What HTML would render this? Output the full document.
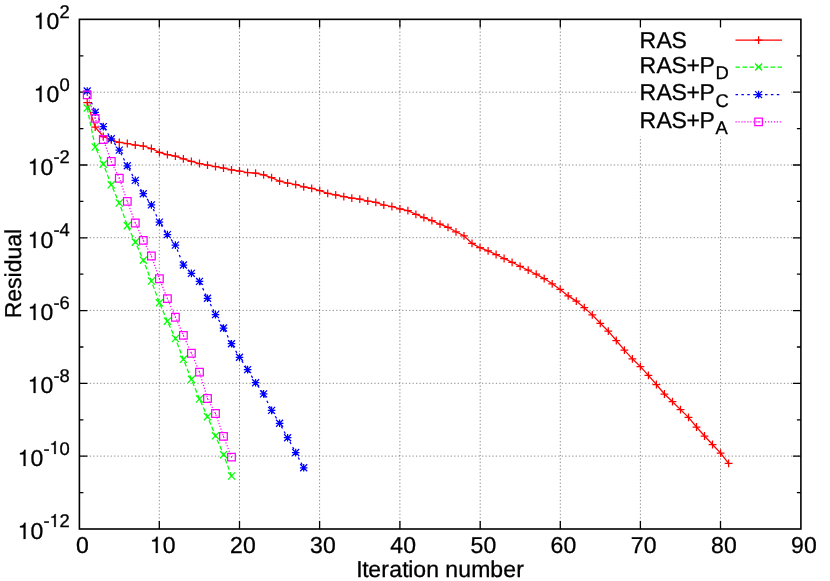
<!DOCTYPE html>
<html><head><meta charset="utf-8"><title>Residual vs iteration</title>
<style>html,body{margin:0;padding:0;background:#fff}svg{display:block;will-change:transform}</style>
</head><body>
<svg width="830" height="581" viewBox="0 0 830 581">
<rect width="830" height="581" fill="#fff"/>
<g stroke="#000" stroke-opacity="0.45" stroke-width="1" stroke-dasharray="1.3 2.17" fill="none">
<path d="M159.3 529.0V19.4"/>
<path d="M239.5 529.0V19.4"/>
<path d="M319.6 529.0V19.4"/>
<path d="M399.9 529.0V19.4"/>
<path d="M480.2 529.0V19.4"/>
<path d="M560.3 529.0V19.4"/>
<path d="M640.4 529.0V19.4"/>
<path d="M720.5 529.0V19.4"/>
<path d="M79.4 92.2H800.9"/>
<path d="M79.4 165.0H800.9"/>
<path d="M79.4 237.7H800.9"/>
<path d="M79.4 310.4H800.9"/>
<path d="M79.4 383.3H800.9"/>
<path d="M79.4 456.1H800.9"/>
</g>
<rect x="638" y="20" width="153" height="116.6" fill="#fff"/>
<g stroke="#000" stroke-width="1.3" fill="none">
<path d="M159.3 529.0v-8M159.3 19.4v8M239.5 529.0v-8M239.5 19.4v8M319.6 529.0v-8M319.6 19.4v8M399.9 529.0v-8M399.9 19.4v8M480.2 529.0v-8M480.2 19.4v8M560.3 529.0v-8M560.3 19.4v8M640.4 529.0v-8M640.4 19.4v8M720.5 529.0v-8M720.5 19.4v8M79.4 55.8h4M800.9 55.8h-4M79.4 92.2h8M800.9 92.2h-8M79.4 128.6h4M800.9 128.6h-4M79.4 165.0h8M800.9 165.0h-8M79.4 201.4h4M800.9 201.4h-4M79.4 237.8h8M800.9 237.8h-8M79.4 274.2h4M800.9 274.2h-4M79.4 310.6h8M800.9 310.6h-8M79.4 347.0h4M800.9 347.0h-4M79.4 383.4h8M800.9 383.4h-8M79.4 419.8h4M800.9 419.8h-4M79.4 456.2h8M800.9 456.2h-8M79.4 492.6h4M800.9 492.6h-4"/>
<rect x="79.40" y="19.35" width="721.50" height="509.65" stroke-width="1.6"/>
</g>
<g stroke="#ff0000" stroke-width="1.25" fill="none">
<polyline points="87.2,102.6 95.2,127.2 103.3,136.5 111.3,140.0 119.3,142.4 127.3,143.5 135.3,145.0 143.3,146.0 151.4,148.5 159.4,152.3 167.4,154.7 175.4,156.1 183.4,158.8 191.4,161.3 199.5,163.5 207.5,165.1 215.5,166.5 223.5,168.1 231.5,169.8 239.5,171.0 247.6,172.5 255.6,173.1 263.6,174.9 271.6,177.7 279.6,181.2 287.6,183.0 295.7,184.5 303.7,186.9 311.7,188.4 319.7,190.5 327.7,193.3 335.7,194.8 343.8,196.6 351.8,198.1 359.8,199.2 367.8,201.0 375.8,202.3 383.8,205.0 391.9,206.5 399.9,208.9 407.9,210.7 415.9,214.3 423.9,217.7 431.9,220.6 440.0,224.2 448.0,227.3 456.0,231.8 464.0,235.8 472.0,243.4 480.0,247.7 488.1,250.9 496.1,254.5 504.1,258.5 512.1,262.3 520.1,266.3 528.2,270.2 536.2,274.2 544.2,278.6 552.2,283.8 560.2,289.4 568.2,295.9 576.3,301.1 584.3,307.7 592.3,314.9 600.3,323.3 608.3,331.2 616.3,340.5 624.4,350.1 632.4,358.8 640.4,366.6 648.4,375.4 656.4,384.5 664.4,394.0 672.5,401.7 680.5,409.6 688.5,417.4 696.5,427.0 704.5,436.0 712.5,444.5 720.6,453.1 728.6,463.4"/>
<path d="M83.3 102.6H91.1M87.2 98.7V106.5M91.3 127.2H99.1M95.2 123.3V131.1M99.4 136.5H107.2M103.3 132.6V140.4M107.4 140.0H115.2M111.3 136.1V143.9M115.4 142.4H123.2M119.3 138.5V146.3M123.4 143.5H131.2M127.3 139.6V147.4M131.4 145.0H139.2M135.3 141.1V148.9M139.4 146.0H147.2M143.3 142.1V149.9M147.5 148.5H155.3M151.4 144.6V152.4M155.5 152.3H163.3M159.4 148.4V156.2M163.5 154.7H171.3M167.4 150.8V158.6M171.5 156.1H179.3M175.4 152.2V160.0M179.5 158.8H187.3M183.4 154.9V162.7M187.5 161.3H195.3M191.4 157.4V165.2M195.6 163.5H203.4M199.5 159.6V167.4M203.6 165.1H211.4M207.5 161.2V169.0M211.6 166.5H219.4M215.5 162.6V170.4M219.6 168.1H227.4M223.5 164.2V172.0M227.6 169.8H235.4M231.5 165.9V173.7M235.6 171.0H243.4M239.5 167.1V174.9M243.7 172.5H251.5M247.6 168.6V176.4M251.7 173.1H259.5M255.6 169.2V177.0M259.7 174.9H267.5M263.6 171.0V178.8M267.7 177.7H275.5M271.6 173.8V181.6M275.7 181.2H283.5M279.6 177.3V185.1M283.7 183.0H291.5M287.6 179.1V186.9M291.8 184.5H299.6M295.7 180.6V188.4M299.8 186.9H307.6M303.7 183.0V190.8M307.8 188.4H315.6M311.7 184.5V192.3M315.8 190.5H323.6M319.7 186.6V194.4M323.8 193.3H331.6M327.7 189.4V197.2M331.8 194.8H339.6M335.7 190.9V198.7M339.9 196.6H347.7M343.8 192.7V200.5M347.9 198.1H355.7M351.8 194.2V202.0M355.9 199.2H363.7M359.8 195.3V203.1M363.9 201.0H371.7M367.8 197.1V204.9M371.9 202.3H379.7M375.8 198.4V206.2M379.9 205.0H387.7M383.8 201.1V208.9M388.0 206.5H395.8M391.9 202.6V210.4M396.0 208.9H403.8M399.9 205.0V212.8M404.0 210.7H411.8M407.9 206.8V214.6M412.0 214.3H419.8M415.9 210.4V218.2M420.0 217.7H427.8M423.9 213.8V221.6M428.0 220.6H435.8M431.9 216.7V224.5M436.1 224.2H443.9M440.0 220.3V228.1M444.1 227.3H451.9M448.0 223.4V231.2M452.1 231.8H459.9M456.0 227.9V235.7M460.1 235.8H467.9M464.0 231.9V239.7M468.1 243.4H475.9M472.0 239.5V247.3M476.1 247.7H483.9M480.0 243.8V251.6M484.2 250.9H492.0M488.1 247.0V254.8M492.2 254.5H500.0M496.1 250.6V258.4M500.2 258.5H508.0M504.1 254.6V262.4M508.2 262.3H516.0M512.1 258.4V266.2M516.2 266.3H524.0M520.1 262.4V270.2M524.3 270.2H532.1M528.2 266.3V274.1M532.3 274.2H540.1M536.2 270.3V278.1M540.3 278.6H548.1M544.2 274.7V282.5M548.3 283.8H556.1M552.2 279.9V287.7M556.3 289.4H564.1M560.2 285.5V293.3M564.3 295.9H572.1M568.2 292.0V299.8M572.4 301.1H580.2M576.3 297.2V305.0M580.4 307.7H588.2M584.3 303.8V311.6M588.4 314.9H596.2M592.3 311.0V318.8M596.4 323.3H604.2M600.3 319.4V327.2M604.4 331.2H612.2M608.3 327.3V335.1M612.4 340.5H620.2M616.3 336.6V344.4M620.5 350.1H628.3M624.4 346.2V354.0M628.5 358.8H636.3M632.4 354.9V362.7M636.5 366.6H644.3M640.4 362.7V370.5M644.5 375.4H652.3M648.4 371.5V379.3M652.5 384.5H660.3M656.4 380.6V388.4M660.5 394.0H668.3M664.4 390.1V397.9M668.6 401.7H676.4M672.5 397.8V405.6M676.6 409.6H684.4M680.5 405.7V413.5M684.6 417.4H692.4M688.5 413.5V421.3M692.6 427.0H700.4M696.5 423.1V430.9M700.6 436.0H708.4M704.5 432.1V439.9M708.6 444.5H716.4M712.5 440.6V448.4M716.7 453.1H724.5M720.6 449.2V457.0M724.7 463.4H732.5M728.6 459.5V467.3"/>
</g>
<g stroke="#00ff00" stroke-width="1.25" fill="none">
<polyline points="87.2,108.0 95.2,147.0 103.3,164.1 111.3,184.8 119.3,203.0 127.3,225.6 135.3,242.1 143.3,260.2 151.4,281.0 159.4,302.8 167.4,321.2 175.4,338.5 183.4,359.3 191.4,379.4 199.5,399.0 207.5,416.6 215.5,435.8 223.5,454.6 231.5,476.0" stroke-dasharray="4.6 2.4"/>
<path d="M83.7 104.5L90.8 111.5M83.7 111.5L90.8 104.5M91.7 143.4L98.8 150.6M91.7 150.6L98.8 143.4M99.7 160.5L106.8 167.7M99.7 167.7L106.8 160.5M107.7 181.2L114.8 188.4M107.7 188.4L114.8 181.2M115.7 199.4L122.8 206.6M115.7 206.6L122.8 199.4M123.8 222.0L130.9 229.2M123.8 229.2L130.9 222.0M131.8 238.5L138.9 245.7M131.8 245.7L138.9 238.5M139.8 256.6L146.9 263.8M139.8 263.8L146.9 256.6M147.8 277.4L154.9 284.6M147.8 284.6L154.9 277.4M155.8 299.2L162.9 306.4M155.8 306.4L162.9 299.2M163.8 317.6L170.9 324.8M163.8 324.8L170.9 317.6M171.9 334.9L179.0 342.1M171.9 342.1L179.0 334.9M179.9 355.8L187.0 362.9M179.9 362.9L187.0 355.8M187.9 375.8L195.0 382.9M187.9 382.9L195.0 375.8M195.9 395.4L203.0 402.6M195.9 402.6L203.0 395.4M203.9 413.1L211.0 420.2M203.9 420.2L211.0 413.1M211.9 432.2L219.0 439.4M211.9 439.4L219.0 432.2M220.0 451.1L227.1 458.2M220.0 458.2L227.1 451.1M228.0 472.4L235.1 479.6M228.0 479.6L235.1 472.4"/>
</g>
<g stroke="#0000ff" stroke-width="1.25" fill="none">
<polyline points="87.2,91.0 95.2,112.3 103.3,126.6 111.3,138.8 119.3,150.1 127.3,165.8 135.3,180.4 143.3,193.7 151.4,204.9 159.4,222.1 167.4,234.6 175.4,245.1 183.4,265.0 191.4,273.4 199.5,281.4 207.5,298.3 215.5,314.6 223.5,328.0 231.5,343.7 239.5,357.3 247.6,369.6 255.6,382.7 263.6,393.9 271.6,410.4 279.6,423.3 287.6,437.7 295.7,452.5 303.7,467.8" stroke-dasharray="2.5 3.4"/>
<path d="M83.4 91.0H91.0M87.2 87.2V94.8M83.7 87.5L90.7 94.5M83.7 94.5L90.7 87.5M91.4 112.3H99.0M95.2 108.5V116.1M91.7 108.8L98.7 115.8M91.7 115.8L98.7 108.8M99.5 126.6H107.1M103.3 122.8V130.4M99.8 123.1L106.8 130.1M99.8 130.1L106.8 123.1M107.5 138.8H115.1M111.3 135.0V142.6M107.8 135.3L114.8 142.3M107.8 142.3L114.8 135.3M115.5 150.1H123.1M119.3 146.3V153.9M115.8 146.6L122.8 153.6M115.8 153.6L122.8 146.6M123.5 165.8H131.1M127.3 162.0V169.6M123.8 162.3L130.8 169.3M123.8 169.3L130.8 162.3M131.5 180.4H139.1M135.3 176.6V184.2M131.8 176.9L138.8 183.9M131.8 183.9L138.8 176.9M139.5 193.7H147.1M143.3 189.9V197.5M139.8 190.2L146.8 197.2M139.8 197.2L146.8 190.2M147.6 204.9H155.2M151.4 201.1V208.7M147.9 201.4L154.9 208.4M147.9 208.4L154.9 201.4M155.6 222.1H163.2M159.4 218.3V225.9M155.9 218.6L162.9 225.6M155.9 225.6L162.9 218.6M163.6 234.6H171.2M167.4 230.8V238.4M163.9 231.1L170.9 238.1M163.9 238.1L170.9 231.1M171.6 245.1H179.2M175.4 241.3V248.9M171.9 241.6L178.9 248.6M171.9 248.6L178.9 241.6M179.6 265.0H187.2M183.4 261.2V268.8M179.9 261.5L186.9 268.5M179.9 268.5L186.9 261.5M187.6 273.4H195.2M191.4 269.6V277.2M187.9 269.9L194.9 276.9M187.9 276.9L194.9 269.9M195.7 281.4H203.3M199.5 277.6V285.2M196.0 277.9L203.0 284.9M196.0 284.9L203.0 277.9M203.7 298.3H211.3M207.5 294.5V302.1M204.0 294.8L211.0 301.8M204.0 301.8L211.0 294.8M211.7 314.6H219.3M215.5 310.8V318.4M212.0 311.1L219.0 318.1M212.0 318.1L219.0 311.1M219.7 328.0H227.3M223.5 324.2V331.8M220.0 324.5L227.0 331.5M220.0 331.5L227.0 324.5M227.7 343.7H235.3M231.5 339.9V347.5M228.0 340.2L235.0 347.2M228.0 347.2L235.0 340.2M235.7 357.3H243.3M239.5 353.5V361.1M236.0 353.8L243.0 360.8M236.0 360.8L243.0 353.8M243.8 369.6H251.4M247.6 365.8V373.4M244.1 366.1L251.1 373.1M244.1 373.1L251.1 366.1M251.8 382.7H259.4M255.6 378.9V386.5M252.1 379.2L259.1 386.2M252.1 386.2L259.1 379.2M259.8 393.9H267.4M263.6 390.1V397.7M260.1 390.4L267.1 397.4M260.1 397.4L267.1 390.4M267.8 410.4H275.4M271.6 406.6V414.2M268.1 406.9L275.1 413.9M268.1 413.9L275.1 406.9M275.8 423.3H283.4M279.6 419.5V427.1M276.1 419.8L283.1 426.8M276.1 426.8L283.1 419.8M283.8 437.7H291.4M287.6 433.9V441.5M284.1 434.2L291.1 441.2M284.1 441.2L291.1 434.2M291.9 452.5H299.5M295.7 448.7V456.3M292.2 449.0L299.2 456.0M292.2 456.0L299.2 449.0M299.9 467.8H307.5M303.7 464.0V471.6M300.2 464.3L307.2 471.3M300.2 471.3L307.2 464.3"/>
</g>
<g stroke="#ff00ff" stroke-width="1.25" fill="none">
<polyline points="87.2,94.9 95.2,118.4 103.3,139.5 111.3,161.5 119.3,178.2 127.3,201.4 135.3,223.0 143.3,240.3 151.4,256.0 159.4,278.7 167.4,298.6 175.4,317.2 183.4,335.4 191.4,353.2 199.5,372.1 207.5,398.5 215.5,413.5 223.5,436.4 231.5,457.1" stroke-dasharray="1.2 1.75"/>
<path d="M83.4 91.1h7.6v7.6h-7.6zM86.7 94.9h1M91.4 114.6h7.6v7.6h-7.6zM94.7 118.4h1M99.5 135.7h7.6v7.6h-7.6zM102.8 139.5h1M107.5 157.7h7.6v7.6h-7.6zM110.8 161.5h1M115.5 174.4h7.6v7.6h-7.6zM118.8 178.2h1M123.5 197.6h7.6v7.6h-7.6zM126.8 201.4h1M131.5 219.2h7.6v7.6h-7.6zM134.8 223.0h1M139.5 236.5h7.6v7.6h-7.6zM142.8 240.3h1M147.6 252.2h7.6v7.6h-7.6zM150.9 256.0h1M155.6 274.9h7.6v7.6h-7.6zM158.9 278.7h1M163.6 294.8h7.6v7.6h-7.6zM166.9 298.6h1M171.6 313.4h7.6v7.6h-7.6zM174.9 317.2h1M179.6 331.6h7.6v7.6h-7.6zM182.9 335.4h1M187.6 349.4h7.6v7.6h-7.6zM190.9 353.2h1M195.7 368.3h7.6v7.6h-7.6zM199.0 372.1h1M203.7 394.7h7.6v7.6h-7.6zM207.0 398.5h1M211.7 409.7h7.6v7.6h-7.6zM215.0 413.5h1M219.7 432.6h7.6v7.6h-7.6zM223.0 436.4h1M227.7 453.3h7.6v7.6h-7.6zM231.0 457.1h1"/>
</g>
<g stroke="#ff0000" stroke-width="1.25" fill="none">
<path d="M735.5 40.2H782.0"/>
<path d="M754.7 40.2H762.5M758.6 36.3V44.1"/>
</g>
<g stroke="#00ff00" stroke-width="1.25" fill="none">
<path d="M735.5 67.0H782.0" stroke-dasharray="4.6 2.4"/>
<path d="M755.1 63.5L762.1 70.5M755.1 70.5L762.1 63.5"/>
</g>
<g stroke="#0000ff" stroke-width="1.25" fill="none">
<path d="M735.5 94.6H782.0" stroke-dasharray="2.5 3.4"/>
<path d="M754.8 94.6H762.4M758.6 90.8V98.4M755.1 91.1L762.1 98.1M755.1 98.1L762.1 91.1"/>
</g>
<g stroke="#ff00ff" stroke-width="1.25" fill="none">
<path d="M735.5 121.8H782.0" stroke-dasharray="1.2 1.75"/>
<path d="M754.8 118.0h7.6v7.6h-7.6zM758.1 121.8h1"/>
</g>
<g font-family="'Liberation Sans', sans-serif" font-size="23.00px" fill="#000" stroke="#000" stroke-width="0.30" text-rendering="geometricPrecision">
<text transform="translate(69.4 17.8)" x="-10.0" font-size="18.40px">2</text>
<text transform="translate(59.6 29.4)" x="-13.0">0</text>
<text transform="translate(69.4 90.6)" x="-10.0" font-size="18.40px">0</text>
<text transform="translate(59.6 102.2)" x="-13.0">0</text>
<text transform="translate(69.4 163.4)" x="-16.0 -10.0" font-size="18.40px">-2</text>
<text transform="translate(53.6 175.0)" x="-13.0">0</text>
<text transform="translate(69.4 236.1)" x="-16.0 -10.0" font-size="18.40px">-4</text>
<text transform="translate(53.6 247.7)" x="-13.0">0</text>
<text transform="translate(69.4 308.8)" x="-16.0 -10.0" font-size="18.40px">-6</text>
<text transform="translate(53.6 320.4)" x="-13.0">0</text>
<text transform="translate(69.4 381.7)" x="-16.0 -10.0" font-size="18.40px">-8</text>
<text transform="translate(53.6 393.3)" x="-13.0">0</text>
<text transform="translate(69.4 454.5)" x="-26.0 -10.0" font-size="18.40px">-0</text>
<text transform="translate(43.6 466.1)" x="-13.0">0</text>
<text transform="translate(69.4 527.4)" x="-26.0 -10.0" font-size="18.40px">-2</text>
<text transform="translate(43.6 539.0)" x="-13.0">0</text>
<text transform="translate(82.6 553.4)" x="-6.5">0</text>
<text transform="translate(162.8 553.4)" x="0.0">0</text>
<text transform="translate(242.9 553.4)" x="-13.0 0.0">20</text>
<text transform="translate(323.1 553.4)" x="-13.0 0.0">30</text>
<text transform="translate(403.3 553.4)" x="-13.0 0.0">40</text>
<text transform="translate(483.4 553.4)" x="-13.0 0.0">50</text>
<text transform="translate(563.6 553.4)" x="-13.0 0.0">60</text>
<text transform="translate(643.8 553.4)" x="-13.0 0.0">70</text>
<text transform="translate(723.9 553.4)" x="-13.0 0.0">80</text>
<text transform="translate(804.1 553.4)" x="-13.0 0.0">90</text>
<text transform="translate(440.3 576.8)" x="-84.0 -78.0 -72.0 -59.0 -51.0 -38.0 -32.0 -27.0 -14.0 -1.0 5.0 18.0 31.0 50.0 63.0 76.0">Iteration number</text>
<text transform="translate(21.3 273.6) rotate(-90)" text-anchor="middle">Residual</text>
<text transform="translate(639.5 48.2)" x="0.0 17.0 32.0">RAS</text>
<text transform="translate(639.5 73.0)" x="0.0 17.0 32.0 47.0 60.0">RAS+P</text>
<text transform="translate(715.5 79.3)" x="0.0" font-size="18.40px">D</text>
<text transform="translate(639.5 100.3)" x="0.0 17.0 32.0 47.0 60.0">RAS+P</text>
<text transform="translate(715.5 106.6)" x="0.0" font-size="18.40px">C</text>
<text transform="translate(639.5 127.5)" x="0.0 17.0 32.0 47.0 60.0">RAS+P</text>
<text transform="translate(715.5 133.8)" x="0.0" font-size="18.40px">A</text>
</g>
<g fill="#000" stroke="#000">
<path transform="translate(33.60 29.00) scale(0.02300)" stroke-width="7.8" d="M259 0V-505H102V-568C190 -575 262 -612 291 -709H347V0Z"/>
<path transform="translate(33.60 102.00) scale(0.02300)" stroke-width="7.8" d="M259 0V-505H102V-568C190 -575 262 -612 291 -709H347V0Z"/>
<path transform="translate(27.60 175.00) scale(0.02300)" stroke-width="7.8" d="M259 0V-505H102V-568C190 -575 262 -612 291 -709H347V0Z"/>
<path transform="translate(27.60 248.00) scale(0.02300)" stroke-width="7.8" d="M259 0V-505H102V-568C190 -575 262 -612 291 -709H347V0Z"/>
<path transform="translate(27.60 320.00) scale(0.02300)" stroke-width="7.8" d="M259 0V-505H102V-568C190 -575 262 -612 291 -709H347V0Z"/>
<path transform="translate(27.60 393.00) scale(0.02300)" stroke-width="7.8" d="M259 0V-505H102V-568C190 -575 262 -612 291 -709H347V0Z"/>
<path transform="translate(49.40 454.00) scale(0.01840)" stroke-width="9.8" d="M259 0V-505H102V-568C190 -575 262 -612 291 -709H347V0Z"/>
<path transform="translate(17.60 466.00) scale(0.02300)" stroke-width="7.8" d="M259 0V-505H102V-568C190 -575 262 -612 291 -709H347V0Z"/>
<path transform="translate(49.40 527.00) scale(0.01840)" stroke-width="9.8" d="M259 0V-505H102V-568C190 -575 262 -612 291 -709H347V0Z"/>
<path transform="translate(17.60 539.00) scale(0.02300)" stroke-width="7.8" d="M259 0V-505H102V-568C190 -575 262 -612 291 -709H347V0Z"/>
<path transform="translate(149.77 553.00) scale(0.02300)" stroke-width="7.8" d="M259 0V-505H102V-568C190 -575 262 -612 291 -709H347V0Z"/>
</g>
</svg>
</body></html>
